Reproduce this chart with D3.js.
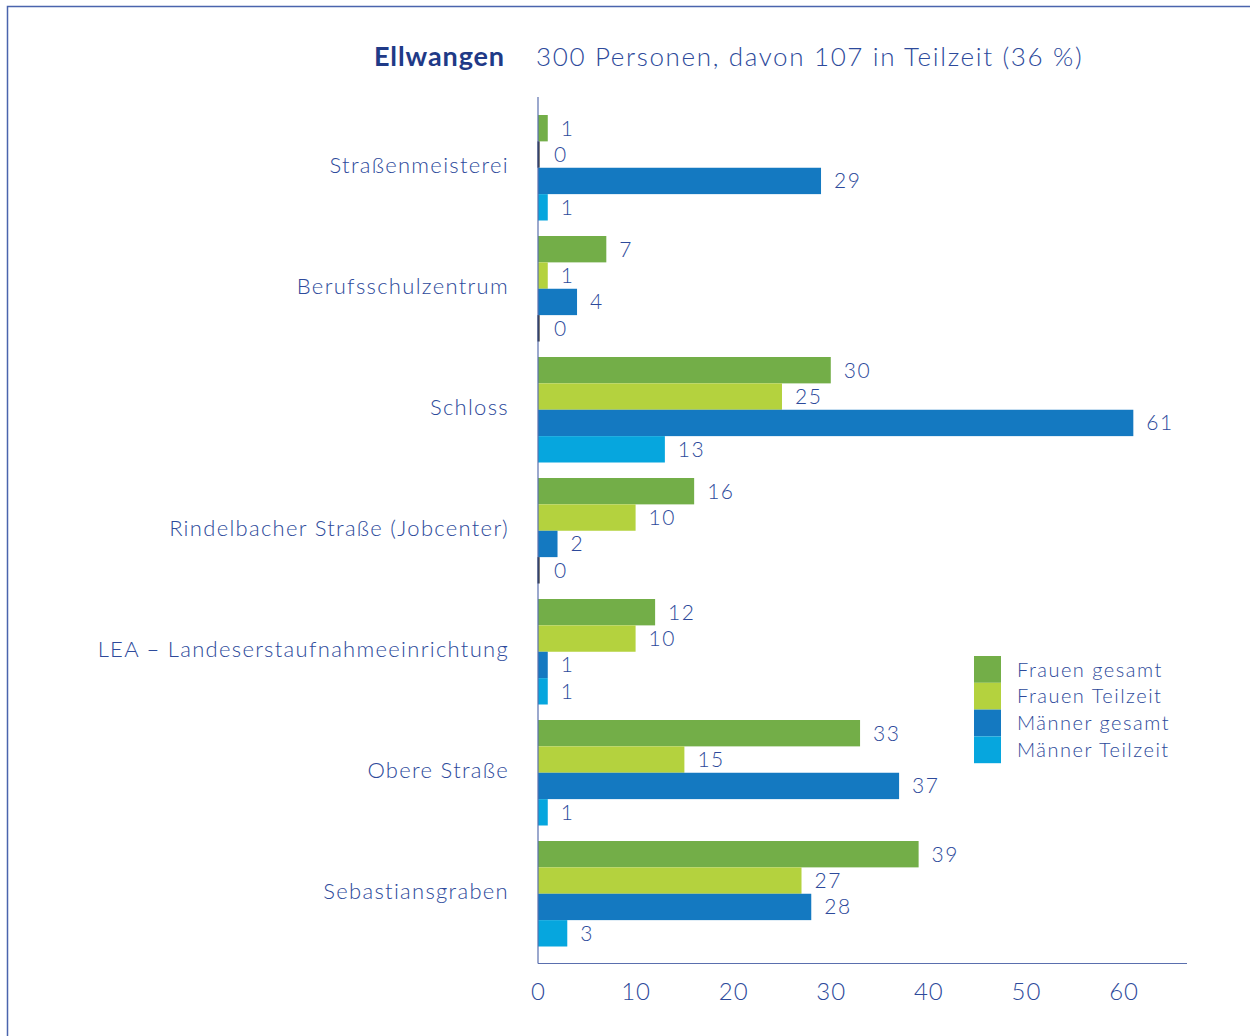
<!DOCTYPE html>
<html><head><meta charset="utf-8">
<script src="https://cdn.jsdelivr.net/npm/d3@7"></script>
<style>
body{margin:0;background:#fff;}
svg{display:block;font-family:Lato,"Noto Sans",sans-serif;}
</style></head><body>
<svg id="c" width="1250" height="1036"></svg>
<script>
const categories = ["Straßenmeisterei","Berufsschulzentrum","Schloss","Rindelbacher Straße (Jobcenter)","LEA – Landeserstaufnahmeeinrichtung","Obere Straße","Sebastiansgraben"];
const seriesNames = ["Frauen gesamt","Frauen Teilzeit","Männer gesamt","Männer Teilzeit"];
const frauenGesamt = [1,7,30,16,12,33,39];
const frauenTeilzeit = [0,1,25,10,10,15,27];
const maennerGesamt = [29,4,61,2,1,37,28];
const maennerTeilzeit = [1,0,13,0,1,1,3];
const xTicks = [0,10,20,30,40,50,60];
const colors = ["#73ae48","#b4d23e","#1479c1","#06a6de"];
const title = "Ellwangen";
const subtitle = "300 Personen, davon 107 in Teilzeit (36 %)";

const series = [frauenGesamt, frauenTeilzeit, maennerGesamt, maennerTeilzeit];
const textColor = "#2d4a9b";
const svg = d3.select("#c");

// frame
svg.append("path").attr("d","M1250,6.5 H7.5 V1036").attr("fill","none").attr("stroke","#4a64ad").attr("stroke-width",1.5);

const x = d3.scaleLinear().domain([0,66.5]).range([538,1187]);
const y = d3.scaleBand().domain(categories).range([115,946.5]).paddingInner(15.5/121).paddingOuter(0);
const ySub = d3.scaleBand().domain(d3.range(4)).range([0,y.bandwidth()]);

// title
svg.append("text").attr("x",505).attr("y",66).attr("text-anchor","end")
  .attr("fill","#1f3a87").attr("font-weight","bold").attr("font-size",27).attr("letter-spacing",0.9).text(title);
svg.append("text").attr("x",536).attr("y",66).attr("fill",textColor)
  .attr("font-size",26).attr("font-weight",300).attr("letter-spacing",1.65).text(subtitle);

const g = svg.append("g");
categories.forEach((cat,i)=>{
  series.forEach((s,k)=>{
    const v = s[i];
    const yy = y(cat)+ySub(k);
    const h = ySub.bandwidth();
    if(v>0){
      g.append("rect").attr("x",x(0)).attr("y",yy).attr("width",x(v)-x(0)).attr("height",h).attr("fill",colors[k]);
    } else {
      g.append("rect").attr("x",x(0)-0.5).attr("y",yy).attr("width",2).attr("height",h).attr("fill","#000");
    }
    g.append("text").attr("x",x(v)+(v>0?13:16)).attr("y",yy+h/2).attr("dy","0.36em")
      .attr("fill",textColor).attr("font-size",21).attr("font-weight",300).attr("letter-spacing",1.5).text(v);
  });
  g.append("text").attr("x",509).attr("y",y(cat)+y.bandwidth()/2-3).attr("dy","0.36em")
    .attr("text-anchor","end").attr("fill",textColor).attr("font-size",22).attr("font-weight",300).attr("letter-spacing",1.3).text(cat);
});

// axes
svg.append("line").attr("x1",x(0)).attr("x2",x(0)).attr("y1",97).attr("y2",963.5).attr("stroke","#5a6fae").attr("stroke-width",1.2);
svg.append("line").attr("x1",x(0)).attr("x2",1187).attr("y1",963.5).attr("y2",963.5).attr("stroke","#5a6fae").attr("stroke-width",1.2);
const xa = svg.append("g").attr("transform","translate(0,963)")
  .call(d3.axisBottom(x).tickValues(xTicks).tickSize(0).tickPadding(20).tickFormat(d3.format("d")));
xa.select(".domain").remove();
xa.selectAll("text").attr("fill",textColor).attr("font-size",24).attr("font-weight",300).attr("font-family","Lato,'Noto Sans',sans-serif").attr("letter-spacing",1);

// legend
const lg = svg.append("g").attr("transform","translate(974,656)");
seriesNames.forEach((n,k)=>{
  lg.append("rect").attr("x",0).attr("y",k*26.8).attr("width",27).attr("height",26.8).attr("fill",colors[k]);
  lg.append("text").attr("x",43).attr("y",k*26.8+13.4).attr("dy","0.36em").attr("fill",textColor)
    .attr("font-size",20).attr("font-weight",300).attr("letter-spacing",1.5).text(n);
});
</script></body></html>
